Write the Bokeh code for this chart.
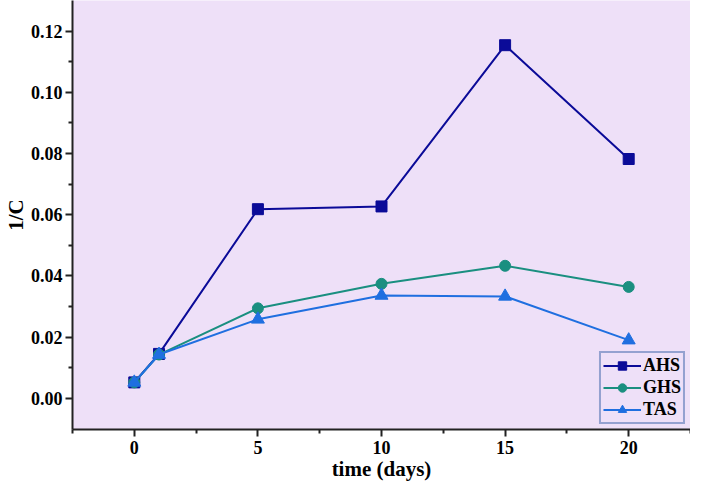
from bokeh.plotting import figure
from bokeh.models import Range1d, FixedTicker, Legend, LegendItem, CustomJSTickFormatter
from bokeh.embed import file_html
from bokeh.resources import INLINE

days = [0, 1, 5, 10, 15, 20]
ahs = [0.0052, 0.0145, 0.0618, 0.0627, 0.1154, 0.0782]
ghs = [0.0052, 0.0143, 0.0294, 0.0374, 0.0433, 0.0364]
tas = [0.0052, 0.0143, 0.0258, 0.0336, 0.0333, 0.0190]
x_ticks = [0, 5, 10, 15, 20]
x_minor = [-2.5, 2.5, 7.5, 12.5, 17.5, 22.5]
y_ticks = [0.0, 0.02, 0.04, 0.06, 0.08, 0.10, 0.12]
y_minor = [0.01, 0.03, 0.05, 0.07, 0.09, 0.11]

FONT = "Liberation Serif"
p = figure(width=690, height=484, output_backend="svg", toolbar_location=None,
           x_range=Range1d(-2.5, 22.5), y_range=Range1d(-0.0102, 0.13),
           min_border_left=60, min_border_right=0, min_border_top=0, min_border_bottom=55)
p.background_fill_color = "#EEE0F8"
p.border_fill_color = "white"
p.outline_line_color = None
p.grid.visible = False

for ax in (p.xaxis[0], p.yaxis[0]):
    ax.axis_line_color = "#222222"
    ax.axis_line_width = 2
    ax.major_tick_line_color = "#222222"
    ax.major_tick_line_width = 2
    ax.minor_tick_line_color = "#222222"
    ax.minor_tick_line_width = 2
    ax.major_tick_out = 7
    ax.major_tick_in = 0
    ax.minor_tick_out = 4
    ax.minor_tick_in = 0
    ax.major_label_text_font = FONT
    ax.major_label_text_font_style = "bold"
    ax.major_label_text_font_size = "18px"
    ax.major_label_text_color = "black"
    ax.axis_label_text_font = FONT
    ax.axis_label_text_font_style = "bold"
    ax.axis_label_text_font_size = "21px"
    ax.axis_label_text_color = "black"

p.xaxis.ticker = FixedTicker(ticks=x_ticks, minor_ticks=x_minor)
p.yaxis.ticker = FixedTicker(ticks=y_ticks, minor_ticks=y_minor)
p.yaxis.formatter = CustomJSTickFormatter(code="return tick.toFixed(2);")
p.xaxis.axis_label = "time (days)"
p.yaxis.axis_label = "1/C"
p.xaxis.major_label_standoff = 4
p.xaxis.axis_label_standoff = 0
p.yaxis.major_label_standoff = 3
p.yaxis.axis_label_standoff = 0

c_ahs = "#0B0B98"
c_ghs = "#1A8F80"
c_tas = "#1F6FE0"

l1 = p.line(days, ahs, line_color=c_ahs, line_width=2)
m1 = p.scatter(days, ahs, marker="square", size=11, fill_color=c_ahs, line_color=c_ahs)
l2 = p.line(days, ghs, line_color=c_ghs, line_width=2)
m2 = p.scatter(days, ghs, marker="circle", size=11, fill_color=c_ghs, line_color=c_ghs)
l3 = p.line(days, tas, line_color=c_tas, line_width=2)
m3 = p.scatter(days, tas, marker="triangle", size=13, fill_color=c_tas, line_color=c_tas)

legend = Legend(items=[LegendItem(label="AHS", renderers=[l1, m1]),
                       LegendItem(label="GHS", renderers=[l2, m2]),
                       LegendItem(label="TAS", renderers=[l3, m3])],
                location="bottom_right")
legend.label_text_font = FONT
legend.label_text_font_style = "bold"
legend.label_text_font_size = "18px"
legend.label_text_color = "black"
legend.background_fill_color = "#EEE0F8"
legend.background_fill_alpha = 1
legend.border_line_color = "#3A62A8"
legend.border_line_width = 2
legend.glyph_width = 38
legend.glyph_height = 21
legend.label_standoff = 2
legend.spacing = 1
legend.padding = 2
legend.margin = 5
legend.label_height = 21
p.add_layout(legend)

open("out.html", "w").write(file_html(p, INLINE))
